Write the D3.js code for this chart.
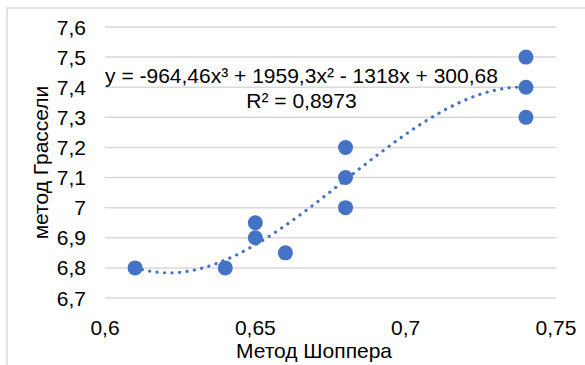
<!DOCTYPE html>
<html>
<head>
<meta charset="utf-8">
<script src="https://cdn.jsdelivr.net/npm/d3@7"></script>
<style>
  body { margin: 0; background: #fff; }
  text { font-family: "Liberation Sans", Arial, sans-serif; fill: #000; }
</style>
</head>
<body>
<div id="chart"></div>
<script>
// data
const shopper = [0.61, 0.64, 0.65, 0.65, 0.66, 0.68, 0.68, 0.68, 0.74, 0.74, 0.74];
const grasseli = [6.8, 6.8, 6.95, 6.9, 6.85, 7.2, 7.1, 7.0, 7.5, 7.4, 7.3];
const xTicks = [0.6, 0.65, 0.7, 0.75];
const yTicks = [6.7, 6.8, 6.9, 7.0, 7.1, 7.2, 7.3, 7.4, 7.5, 7.6];
const eqText = "y = -964,46x³ + 1959,3x² - 1318x + 300,68";
const r2Text = "R² = 0,8973";

const width = 585, height = 365;
const margin = {top: 27, right: 29, bottom: 67, left: 105};
const fontSize = 21;

const svg = d3.select("#chart").append("svg")
    .attr("width", width)
    .attr("height", height);

// chart border (cropped at right/bottom)
svg.append("path")
    .attr("d", `M7,${height}V8H${width}`)
    .attr("fill", "none")
    .attr("stroke", "#d9d9d9")
    .attr("stroke-width", 1.5);

const x = d3.scaleLinear().domain([0.6, 0.75]).range([margin.left, width - margin.right]);
const y = d3.scaleLinear().domain([6.7, 7.6]).range([height - margin.bottom, margin.top]);

const comma = v => String(+v.toFixed(2)).replace(".", ",");

// gridlines
svg.append("g")
    .selectAll("line")
    .data(yTicks)
    .join("line")
        .attr("x1", x.range()[0])
        .attr("x2", x.range()[1])
        .attr("y1", d => y(d))
        .attr("y2", d => y(d))
        .attr("stroke", "#d9d9d9")
        .attr("stroke-width", 1.5);

// y tick labels
svg.append("g")
    .selectAll("text")
    .data(yTicks)
    .join("text")
        .attr("x", 86)
        .attr("y", d => y(d))
        .attr("dy", "0.36em")
        .attr("text-anchor", "end")
        .attr("font-size", fontSize)
        .text(comma);

// x tick labels
svg.append("g")
    .selectAll("text")
    .data(xTicks)
    .join("text")
        .attr("x", d => x(d))
        .attr("y", 335)
        .attr("text-anchor", "middle")
        .attr("font-size", fontSize)
        .text(comma);

// axis titles
svg.append("text")
    .attr("transform", `translate(48,${(y.range()[0] + y.range()[1]) / 2}) rotate(-90)`)
    .attr("text-anchor", "middle")
    .attr("font-size", fontSize)
    .text("метод Грассели");

svg.append("text")
    .attr("x", 314)
    .attr("y", 358)
    .attr("text-anchor", "middle")
    .attr("font-size", fontSize)
    .text("Метод Шоппера");

// cubic least-squares trendline through the points
function polyfit(xs, ys, deg) {
    const n = deg + 1;
    const A = Array.from({length: n}, () => new Array(n + 1).fill(0));
    xs.forEach((xv, k) => {
        for (let i = 0; i < n; i++) {
            for (let j = 0; j < n; j++) A[i][j] += Math.pow(xv, i + j);
            A[i][n] += ys[k] * Math.pow(xv, i);
        }
    });
    for (let i = 0; i < n; i++) {
        let p = i;
        for (let r = i + 1; r < n; r++) if (Math.abs(A[r][i]) > Math.abs(A[p][i])) p = r;
        [A[i], A[p]] = [A[p], A[i]];
        for (let r = 0; r < n; r++) {
            if (r === i) continue;
            const f = A[r][i] / A[i][i];
            for (let c = i; c <= n; c++) A[r][c] -= f * A[i][c];
        }
    }
    return A.map((row, i) => row[n] / row[i]);
}
const coef = polyfit(shopper, grasseli, 3);
const fx = v => coef.reduce((s, c, i) => s + c * Math.pow(v, i), 0);
const xs = d3.range(0, 101).map(i => d3.min(shopper) + (d3.max(shopper) - d3.min(shopper)) * i / 100);

svg.append("path")
    .datum(xs)
    .attr("fill", "none")
    .attr("stroke", "#4472c4")
    .attr("stroke-width", 3.2)
    .attr("stroke-linecap", "round")
    .attr("stroke-dasharray", "0.1 7.4")
    .attr("d", d3.line().x(d => x(d)).y(d => y(fx(d))));

// points
svg.append("g")
    .selectAll("circle")
    .data(shopper)
    .join("circle")
        .attr("cx", d => x(d))
        .attr("cy", (d, i) => y(grasseli[i]))
        .attr("r", 7.5)
        .attr("fill", "#4472c4");

// equation label
svg.append("text")
    .attr("x", 301.5)
    .attr("y", 83)
    .attr("text-anchor", "middle")
    .attr("font-size", fontSize)
    .text(eqText);

svg.append("text")
    .attr("x", 301.5)
    .attr("y", 108)
    .attr("text-anchor", "middle")
    .attr("font-size", fontSize)
    .text(r2Text);
</script>
</body>
</html>
